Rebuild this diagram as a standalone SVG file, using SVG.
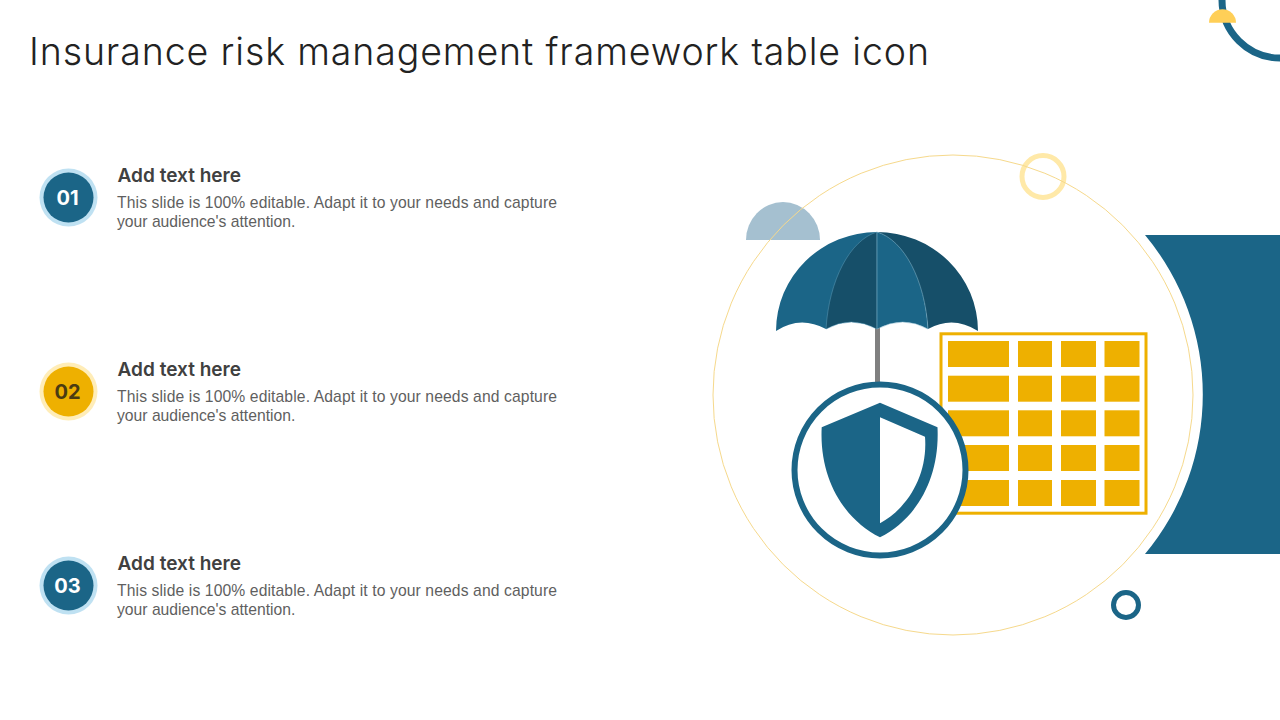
<svg xmlns="http://www.w3.org/2000/svg" width="1280" height="720" viewBox="0 0 1280 720">
<style>
.title{font-family:"Inter","Noto Sans",sans-serif;font-size:37.500px;font-weight:300;fill:#222}
.head{font-family:"Inter","Noto Sans",sans-serif;font-size:19px;font-weight:600;fill:#404040}
.body{font-family:"Liberation Sans",Arial,sans-serif;font-size:15.7px;fill:#5f5f5f}
.num{font-family:"Inter","Noto Sans",sans-serif;font-size:20px;font-weight:700;text-anchor:middle}
.blue{fill:#1b6587}.dark{fill:#164f69}.gold{fill:#eeb000}
</style>
<rect width="1280" height="720" fill="#fff"/>
<text class="title" x="29" y="65" textLength="900" lengthAdjust="spacing">Insurance risk management framework table icon</text>
<g id="corner-deco">
<circle cx="1280" cy="0" r="58" fill="none" stroke="#1b6587" stroke-width="7"/>
<path d="M1209 22.7A13.5 13.5 0 0 1 1236 22.7Z" fill="#ffcf57"/>
</g>
<g id="item-1">
<circle cx="68.500" cy="197.500" r="29" fill="#bfe1f2"/><circle cx="68.500" cy="197.500" r="25" class="blue"/>
<text class="num" x="67.500" y="205" fill="#fff">01</text>
<text class="head" x="117.500" y="182" textLength="123.500" lengthAdjust="spacingAndGlyphs">Add text here</text>
<text class="body" x="117" y="208" textLength="440" lengthAdjust="spacing">This slide is 100% editable. Adapt it to your needs and capture</text>
<text class="body" x="117" y="227">your audience's attention.</text>
</g>
<g id="item-2">
<circle cx="68.500" cy="391.500" r="29" fill="#ffedb8"/><circle cx="68.500" cy="391.500" r="25" class="gold"/>
<text class="num" x="67.500" y="399" fill="#4a3b12">02</text>
<text class="head" x="117.500" y="376" textLength="123.500" lengthAdjust="spacingAndGlyphs">Add text here</text>
<text class="body" x="117" y="402" textLength="440" lengthAdjust="spacing">This slide is 100% editable. Adapt it to your needs and capture</text>
<text class="body" x="117" y="421">your audience's attention.</text>
</g>
<g id="item-3">
<circle cx="68.500" cy="585.500" r="29" fill="#bfe1f2"/><circle cx="68.500" cy="585.500" r="25" class="blue"/>
<text class="num" x="67.500" y="593" fill="#fff">03</text>
<text class="head" x="117.500" y="570" textLength="123.500" lengthAdjust="spacingAndGlyphs">Add text here</text>
<text class="body" x="117" y="596" textLength="440" lengthAdjust="spacing">This slide is 100% editable. Adapt it to your needs and capture</text>
<text class="body" x="117" y="615">your audience's attention.</text>
</g>
<g id="backdrop">
<path class="blue" d="M1145 235H1280V554H1145A249 249 0 0 0 1145 235Z"/>
<circle cx="1043" cy="176.500" r="21" fill="none" stroke="#ffe9a8" stroke-width="5"/>
<path d="M746 240A37 38 0 0 1 820 240Z" fill="#a5c0d0"/>
<circle cx="953" cy="395" r="240" fill="none" stroke="#f6d98c" stroke-width="1"/>
<circle cx="1126" cy="605" r="12.500" fill="none" stroke="#1b6587" stroke-width="5"/>
</g>
<g id="table">
<rect x="941" y="333.800" width="205" height="179.400" fill="#fff" stroke="#eeb000" stroke-width="3"/>
<g class="gold">
<rect x="948" y="341" width="61" height="26"/><rect x="1018" y="341" width="34" height="26"/><rect x="1061" y="341" width="35" height="26"/><rect x="1104.500" y="341" width="35" height="26"/>
<rect x="948" y="375.700" width="61" height="26"/><rect x="1018" y="375.700" width="34" height="26"/><rect x="1061" y="375.700" width="35" height="26"/><rect x="1104.500" y="375.700" width="35" height="26"/>
<rect x="948" y="410.300" width="61" height="26"/><rect x="1018" y="410.300" width="34" height="26"/><rect x="1061" y="410.300" width="35" height="26"/><rect x="1104.500" y="410.300" width="35" height="26"/>
<rect x="948" y="445" width="61" height="26"/><rect x="1018" y="445" width="34" height="26"/><rect x="1061" y="445" width="35" height="26"/><rect x="1104.500" y="445" width="35" height="26"/>
<rect x="948" y="480" width="61" height="26"/><rect x="1018" y="480" width="34" height="26"/><rect x="1061" y="480" width="35" height="26"/><rect x="1104.500" y="480" width="35" height="26"/>
</g>
</g>
<g id="umbrella">
<rect x="875" y="325" width="5" height="60" fill="#808080"/>
<path class="blue" d="M776 331A101 99 0 0 1 877 232V329Q851 315 826 329Q800 315 776 331Z"/>
<path class="dark" d="M877 232A101 99 0 0 1 978 331Q953 315 928 329C925 280 900 240 877 232Z"/>
<path class="dark" d="M877 232C850 240 829 280 826 329Q851 315 877 329Z" stroke="#5f9db8" stroke-width=".5"/>
<path class="blue" d="M877 232C904 240 925 280 928 329Q903 315 877 329Z" stroke="#8fbdd0" stroke-width=".5"/>
</g>
<g id="shield">
<circle cx="880" cy="470" r="85.500" fill="#fff" stroke="#1b6587" stroke-width="6"/>
<path class="blue" fill-rule="evenodd" d="M880 402.700L937.500 427.300C940 480 915 520 880 537.300C845 520 819 480 821.700 427.300ZM880 417.300V523.300C908 508 928 475 925 436.700Z"/>
</g>
</svg>
